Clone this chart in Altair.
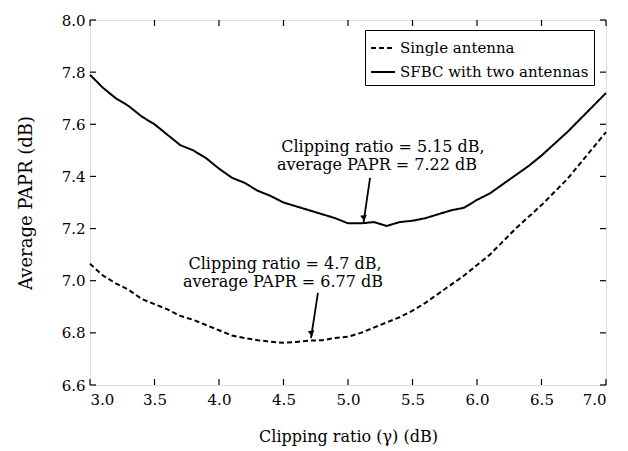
import altair as alt
import pandas as pd

# ---------------- data ----------------
clip_ratio = [round(3.0 + 0.1 * i, 1) for i in range(41)]
single_antenna = [7.065, 7.02, 6.99, 6.965, 6.93, 6.91, 6.89, 6.865, 6.85, 6.83,
                  6.81, 6.79, 6.78, 6.772, 6.766, 6.762, 6.765, 6.77, 6.772, 6.78,
                  6.785, 6.80, 6.82, 6.84, 6.86, 6.885, 6.915, 6.95, 6.985, 7.02,
                  7.06, 7.10, 7.15, 7.20, 7.245, 7.29, 7.34, 7.39, 7.45, 7.51,
                  7.57]
sfbc_two = [7.79, 7.74, 7.70, 7.67, 7.63, 7.60, 7.56, 7.52, 7.50, 7.47,
            7.43, 7.395, 7.375, 7.345, 7.325, 7.30, 7.285, 7.27, 7.255, 7.24,
            7.22, 7.22, 7.225, 7.21, 7.225, 7.23, 7.24, 7.255, 7.27, 7.28,
            7.31, 7.335, 7.37, 7.405, 7.44, 7.48, 7.525, 7.57, 7.62, 7.67,
            7.72]
series_names = ["Single antenna", "SFBC with two antennas"]

x_ticks = [3.0, 3.5, 4.0, 4.5, 5.0, 5.5, 6.0, 6.5, 7.0]
y_ticks = [6.6, 6.8, 7.0, 7.2, 7.4, 7.6, 7.8, 8.0]

ann_text = ["Clipping ratio = 5.15 dB,", "average PAPR = 7.22 dB",
            "Clipping ratio = 4.7 dB,", "average PAPR = 6.77 dB"]
ann_x = [5.271, 5.225, 4.512, 4.496]
ann_y = [7.494, 7.425, 7.045, 6.974]

arrow_x_start = [5.171, 4.767]
arrow_y_start = [7.394, 6.953]
arrow_x_tip = [5.12, 4.713]
arrow_y_tip = [7.222, 6.78]
head_x = [5.123, 4.717]
head_y = [7.240, 6.797]
arrow_angle = [-7, -10]

# ---------------- tables ----------------
lines_df = pd.DataFrame({
    "x": clip_ratio * 2,
    "y": single_antenna + sfbc_two,
    "series": [series_names[0]] * len(clip_ratio) + [series_names[1]] * len(clip_ratio),
})
xt_df = pd.DataFrame({"t": x_ticks})
yt_df = pd.DataFrame({"t": y_ticks})
ann_df = pd.DataFrame({"x": ann_x, "y": ann_y, "text": ann_text})
arr_df = pd.DataFrame({"x": arrow_x_start, "y": arrow_y_start,
                       "x2": arrow_x_tip, "y2": arrow_y_tip})
head_df = pd.DataFrame({"x": head_x, "y": head_y,
                        "angle": [a % 360 for a in arrow_angle]})

W, H = 516, 365
FONT = "DejaVu Serif"
TICK = 6

xscale = alt.Scale(domain=[3.0, 7.0], nice=False, zero=False)
yscale = alt.Scale(domain=[6.6, 8.0], nice=False, zero=False)

xaxis = alt.Axis(values=x_ticks, format=".1f", ticks=False, domain=False, grid=False,
                 labelFont=FONT, labelFontSize=15, labelColor="black", labelPadding=7,
                 title="Clipping ratio (γ) (dB)", titleFont=FONT, titleFontSize=16,
                 titleFontWeight="normal", titleColor="black", titlePadding=21)
yaxis = alt.Axis(values=y_ticks, format=".1f", ticks=False, domain=False, grid=False,
                 labelFont=FONT, labelFontSize=15, labelColor="black", labelPadding=5,
                 title="Average PAPR (dB)", titleFont=FONT, titleFontSize=18,
                 titleFontWeight="normal", titleColor="black", titlePadding=26)

lines = alt.Chart(lines_df).mark_line(color="black", strokeWidth=2).encode(
    x=alt.X("x:Q", scale=xscale, axis=xaxis),
    y=alt.Y("y:Q", scale=yscale, axis=yaxis),
    strokeDash=alt.StrokeDash(
        "series:N",
        scale=alt.Scale(domain=series_names, range=[[5, 3], [1, 0]]),
        sort=series_names,
        legend=alt.Legend(
            title=None, orient="none", legendX=275, legendY=10,
            symbolType="stroke", symbolSize=576, symbolStrokeWidth=2,
            symbolStrokeColor="black", labelFont=FONT, labelFontSize=15,
            labelColor="black", labelOffset=4, rowPadding=3, padding=5,
            strokeColor="black", fillColor="white", labelLimit=400,
        ),
    ),
)

x_top = alt.Chart(xt_df).mark_rule(color="black", strokeWidth=1.2).encode(
    x=alt.X("t:Q", scale=xscale), y=alt.value(0), y2=alt.value(TICK))
x_bot = alt.Chart(xt_df).mark_rule(color="black", strokeWidth=1.2).encode(
    x=alt.X("t:Q", scale=xscale), y=alt.value(H), y2=alt.value(H - TICK))
y_left = alt.Chart(yt_df).mark_rule(color="black", strokeWidth=1.2).encode(
    y=alt.Y("t:Q", scale=yscale), x=alt.value(0), x2=alt.value(TICK))
y_right = alt.Chart(yt_df).mark_rule(color="black", strokeWidth=1.2).encode(
    y=alt.Y("t:Q", scale=yscale), x=alt.value(W), x2=alt.value(W - TICK))

texts = alt.Chart(ann_df).mark_text(font=FONT, fontSize=16, color="black",
                                    align="center", baseline="alphabetic").encode(
    x=alt.X("x:Q", scale=xscale), y=alt.Y("y:Q", scale=yscale), text="text:N")

arrows = alt.Chart(arr_df).mark_rule(color="black", strokeWidth=1.8).encode(
    x=alt.X("x:Q", scale=xscale), y=alt.Y("y:Q", scale=yscale),
    x2="x2:Q", y2="y2:Q")

heads = alt.Chart(head_df).mark_point(shape="triangle-down", filled=True, color="black",
                                      size=45, opacity=1, strokeWidth=0).encode(
    x=alt.X("x:Q", scale=xscale), y=alt.Y("y:Q", scale=yscale),
    angle=alt.Angle("angle:Q", scale=None))

chart = alt.layer(lines, x_top, x_bot, y_left, y_right, texts, arrows, heads).properties(
    width=W, height=H,
    autosize=alt.AutoSizeParams(type="none"),
    padding={"left": 82, "top": 12, "right": 14, "bottom": 70},
).configure_view(stroke="black", strokeWidth=1.5).configure(background="white")

chart.save("out.html", embed_options={"renderer": "svg", "actions": False})
